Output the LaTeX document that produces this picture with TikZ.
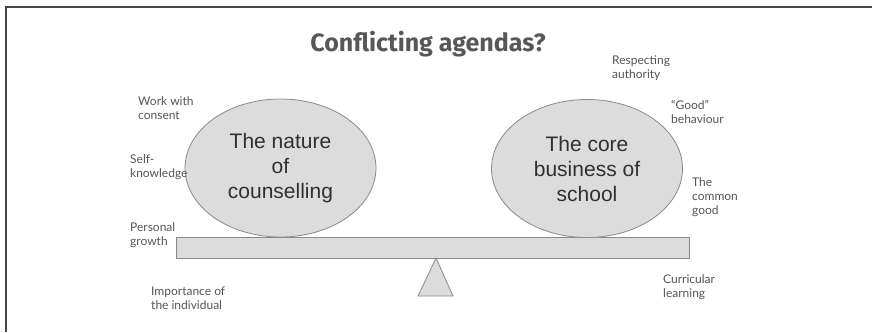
\documentclass[tikz,border=0pt]{standalone}
\usepackage{fontspec}
\setmainfont{Lato}
\newfontfamily\bodyfont{Liberation Sans}
\newfontfamily\headfont{Fira Sans}
\usetikzlibrary{shapes.geometric}
\definecolor{framegray}{HTML}{454545}
\definecolor{shapefill}{HTML}{DCDCDC}
\definecolor{shapeline}{HTML}{8A8A8A}
\definecolor{labelgray}{HTML}{555555}
\definecolor{headgray}{HTML}{575757}
\definecolor{bodygray}{HTML}{303030}
\tikzset{
  balance/.style={draw=shapeline, fill=shapefill, line width=0.8pt},
  weight/.style={balance, ellipse, inner sep=0pt, minimum width=191pt,
    minimum height=138pt, align=center, text=bodygray,
    font=\bodyfont\fontsize{21}{25}\selectfont},
  note/.style={anchor=west, inner sep=0pt, align=left, text=labelgray,
    font=\fontsize{12}{14}\selectfont},
}
\begin{document}
\begin{tikzpicture}[x=1pt,y=-1pt]
\useasboundingbox (0,0) rectangle (872,332);
% open frame along the top and left edges
\draw[framegray, line width=2pt] (6,332) -- (6,7) -- (872,7);
% title
\node[text=headgray, font=\headfont\bfseries\fontsize{25}{30}\selectfont] (title) at (428,44) {Conflicting agendas?};
% see-saw: beam and fulcrum
\node[balance, rectangle, minimum width=513pt, minimum height=21pt, inner sep=0pt] (beam) at (432.5,247.5) {};
\draw[balance] (436,258) -- (453,296) -- (418,296) -- cycle;
% the two weights
\node[weight] (nature) at (280.5,168) {The nature\\of\\counselling};
\node[weight] (school) at (587,168.5) {The core\\business of\\school};
% counselling values
\node[note] (consent) at (138,108) {Work with\\consent};
\node[note] (selfknow) at (130,167) {Self-\\knowledge};
\node[note] (growth) at (130,235.5) {Personal\\growth};
\node[note] (individual) at (151,298.5) {Importance of\\the individual};
% school values
\node[note] (authority) at (612,68.5) {Respecting\\authority};
\node[note] (behaviour) at (671,111.5) {“Good”\\behaviour};
\node[note] (common) at (692,197) {The\\common\\good};
\node[note] (curricular) at (663,287.5) {Curricular\\learning};
\end{tikzpicture}
\end{document}
